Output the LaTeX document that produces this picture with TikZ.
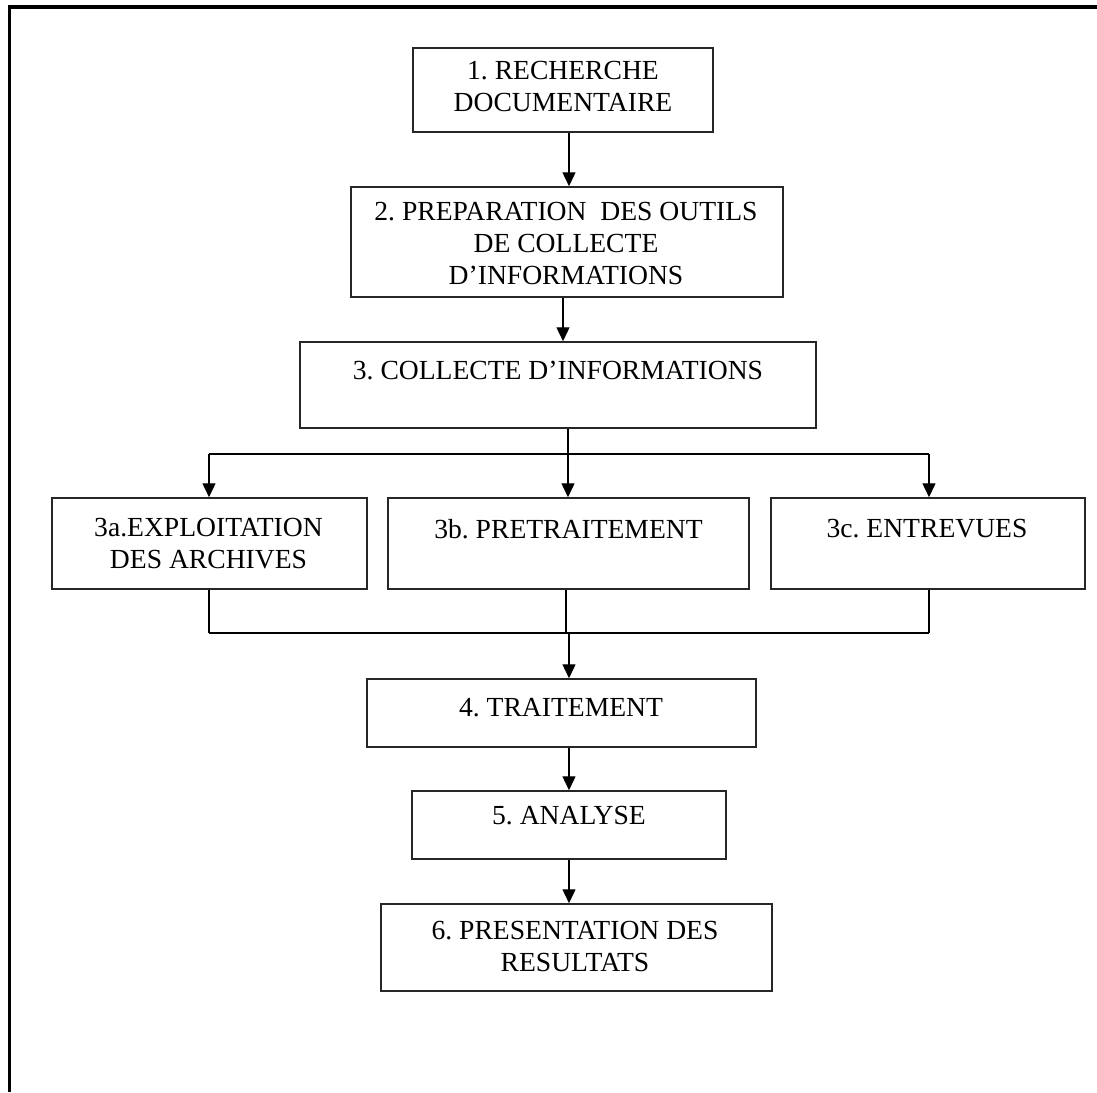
\documentclass[tikz,border=0pt]{standalone}
\usepackage{fontspec}
\setmainfont{Liberation Serif}
\usetikzlibrary{arrows.meta}
\frenchspacing
\begin{document}
\begin{tikzpicture}[x=1pt,y=-1pt,
  boxnode/.style={draw=black!85, line width=1.5pt, rectangle, inner sep=0pt},
  txt/.style={inner sep=0pt, anchor=north, align=center,
    font=\fontsize{27.6}{32}\selectfont\frenchspacing},
  conn/.style={line width=1.4pt, draw=black},
  arr/.style={conn, -{Triangle[width=13pt,length=14pt]}}
]
\useasboundingbox (0,0) rectangle (1097,1092);
% outer frame (top and left only)
\draw[line width=3.8pt, line join=miter] (1097,6.7) -- (9.5,6.7) -- (9.5,1092);

% boxes
\node[boxnode, minimum width=300pt, minimum height=84pt] (b1) at (563,90) {};
\node[boxnode, minimum width=432pt, minimum height=110pt] (b2) at (567,242) {};
\node[boxnode, minimum width=516pt, minimum height=86pt] (b3) at (558,385) {};
\node[boxnode, minimum width=315pt, minimum height=91pt] (b3a) at (209.5,543.5) {};
\node[boxnode, minimum width=361pt, minimum height=91pt] (b3b) at (568.5,543.5) {};
\node[boxnode, minimum width=314pt, minimum height=91pt] (b3c) at (928,543.5) {};
\node[boxnode, minimum width=389pt, minimum height=68pt] (b4) at (561.5,713) {};
\node[boxnode, minimum width=314pt, minimum height=68pt] (b5) at (569,825) {};
\node[boxnode, minimum width=391pt, minimum height=87pt] (b6) at (576.5,947.5) {};

% texts (first baseline minus ascent)
\node[txt] (t1) at (563,61.5) {1. RECHERCHE\\DOCUMENTAIRE};
\node[txt] (t2) at (566,202.5) {2. PREPARATION~~DES OUTILS\\DE COLLECTE\\D’INFORMATIONS};
\node[txt] (t3) at (558,360.5) {3. COLLECTE D’INFORMATIONS};
\node[txt] (t3a) at (208.5,518.5) {3a.EXPLOITATION\\DES ARCHIVES};
\node[txt] (t3b) at (568.5,519.5) {3b. PRETRAITEMENT};
\node[txt] (t3c) at (927,519.5) {3c. ENTREVUES};
\node[txt] (t4) at (561,698.5) {4. TRAITEMENT};
\node[txt] (t5) at (569,806.5) {5. ANALYSE};
\node[txt] (t6) at (575,921.5) {6. PRESENTATION DES\\RESULTATS};

% helper coordinates
\coordinate (xa) at (569,0);
\coordinate (xb) at (563,0);
\coordinate (xm) at (568,0);
\coordinate (ja) at (209,454);
\coordinate (jm) at (568,454);
\coordinate (jc) at (929,454);
\coordinate (ka) at (209,633);
\coordinate (km) at (566,633);
\coordinate (kc) at (929,633);
\coordinate (kx) at (569,633);

% connectors
\draw[arr] (b1.south -| xa) -- (b2.north -| xa);
\draw[arr] (b2.south -| xb) -- (b3.north -| xb);
\draw[conn] (b3.south -| xm) -- (jm);
\draw[conn] (ja) -- (jc);
\draw[arr] (ja) -- (b3a.north -| ja);
\draw[arr] (jm) -- (b3b.north -| jm);
\draw[arr] (jc) -- (b3c.north -| jc);
\draw[conn] (b3a.south -| ka) -- (ka);
\draw[conn] (b3b.south -| km) -- (km);
\draw[conn] (b3c.south -| kc) -- (kc);
\draw[conn] (ka) -- (kc);
\draw[arr] (kx) -- (b4.north -| kx);
\draw[arr] (b4.south -| xa) -- (b5.north -| xa);
\draw[arr] (b5.south -| xa) -- (b6.north -| xa);
\end{tikzpicture}
\end{document}
